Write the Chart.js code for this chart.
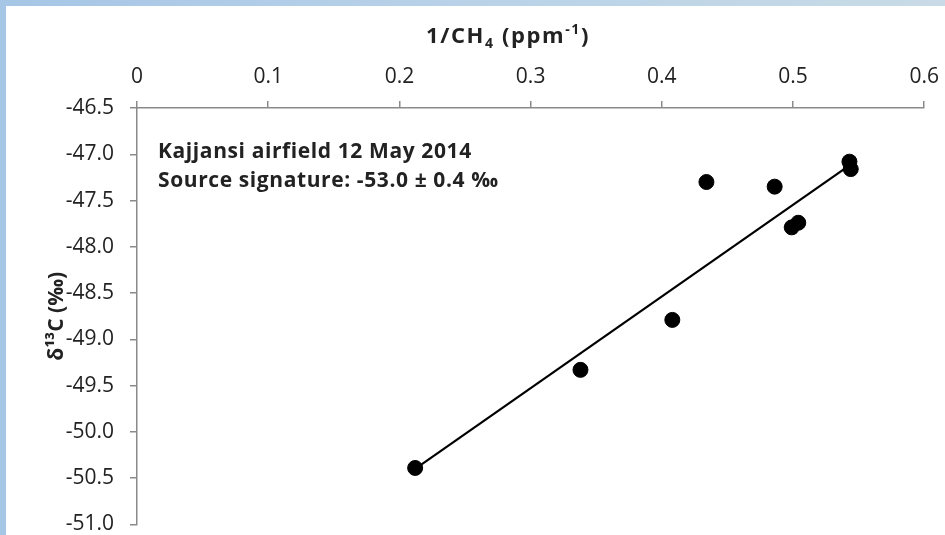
<!DOCTYPE html>
<html lang="en">
<head>
<meta charset="UTF-8"/>
<title>Kajjansi airfield Keeling plot</title>
<script src="https://cdn.jsdelivr.net/npm/chart.js"></script>
<style>
    html, body { margin: 0; padding: 0; }
    body {
        width: 945px; height: 535px; overflow: hidden; position: relative;
        background: linear-gradient(to right, #a6c6e6, #b9d2e8 50%, #c8dbe6);
    }
    .panel { position: absolute; left: 6px; top: 6px; width: 939px; height: 529px; background: #fff; overflow: hidden; }
</style>
</head>
<body>
<div class="panel"><canvas id="keeling" width="944" height="547"></canvas></div>
<script>
    // 1/CH4 (ppm^-1) and delta13C (permil) of the samples
    const invCH4 = [0.212, 0.338, 0.408, 0.434, 0.486, 0.499, 0.504, 0.543, 0.544];
    const d13C = [-50.39, -49.33, -48.79, -47.30, -47.35, -47.79, -47.74, -47.08, -47.16];

    // regression line endpoints
    const fitX = [0.212, 0.543];
    const fitY = [-50.40, -47.12];

    const noteLines = ['Kajjansi airfield 12 May 2014', 'Source signature: -53.0 \u00b1 0.4 \u2030'];

    const FONT = "'Open Sans', sans-serif";
    const INK = '#222';
    const AXIS = '#8a8a8a';

    // text pieces with a baseline shift, so the subscript/superscript come out right
    const xTitle = [
        { t: '1/CH', size: 22, dy: 0 },
        { t: '4', size: 14, dy: 5 },
        { t: ' (ppm', size: 22, dy: 0 },
        { t: '-1', size: 14, dy: -9 },
        { t: ')', size: 22, dy: 0 }
    ];

    const textPlugin = {
        id: 'texts',
        afterDatasetsDraw(chart) {
            const ctx = chart.ctx, a = chart.chartArea;
            ctx.save();
            ctx.fillStyle = INK;
            ctx.textBaseline = 'alphabetic';
            ctx.letterSpacing = '0.6px';

            ctx.font = 'bold 21px ' + FONT;
            noteLines.forEach((t, i) => ctx.fillText(t, a.left + 21, a.top + 50 + i * 29));

            ctx.letterSpacing = '1.6px';
            let w = 0;
            xTitle.forEach(p => { ctx.font = 'bold ' + p.size + 'px ' + FONT; w += ctx.measureText(p.t).width; });
            let x = a.left + 371 - w / 2;
            const base = 37;
            xTitle.forEach(p => {
                ctx.font = 'bold ' + p.size + 'px ' + FONT;
                ctx.fillText(p.t, x, base + p.dy);
                x += ctx.measureText(p.t).width;
            });
            ctx.restore();
        }
    };

    new Chart(document.getElementById('keeling'), {
        type: 'scatter',
        data: {
            datasets: [
                {
                    type: 'line',
                    data: fitX.map((x, i) => ({ x: x, y: fitY[i] })),
                    borderColor: '#000',
                    borderWidth: 2.2,
                    pointRadius: 0,
                    fill: false
                },
                {
                    data: invCH4.map((x, i) => ({ x: x, y: d13C[i] })),
                    backgroundColor: '#000',
                    borderColor: '#000',
                    pointRadius: 7.5
                }
            ]
        },
        options: {
            responsive: false,
            animation: false,
            layout: { padding: 0 },
            plugins: { legend: { display: false }, tooltip: { enabled: false } },
            scales: {
                x: {
                    type: 'linear',
                    position: 'top',
                    min: 0, max: 0.6,
                    afterFit(s) { s.height = 102; },
                    ticks: { stepSize: 0.1, padding: 11, color: INK, font: { family: FONT, size: 21 } },
                    grid: { drawOnChartArea: false, tickLength: 7, color: AXIS, lineWidth: 1.5 },
                    border: { color: AXIS, width: 1.5 }
                },
                y: {
                    min: -51, max: -46.5,
                    afterFit(s) { s.width = 131; },
                    ticks: {
                        stepSize: 0.5, padding: 16, color: INK,
                        font: { family: FONT, size: 21 },
                        callback: v => v.toFixed(1)
                    },
                    grid: { drawOnChartArea: false, tickLength: 7, color: AXIS, lineWidth: 1.5 },
                    border: { color: AXIS, width: 1.5 },
                    title: {
                        display: true,
                        text: '\u03b4\u00b9\u00b3C (\u2030)',
                        color: INK,
                        padding: { top: 38, bottom: 0 },
                        font: { family: FONT, size: 21, weight: 'bold' }
                    }
                }
            }
        },
        plugins: [textPlugin]
    });
</script>
</body>
</html>
